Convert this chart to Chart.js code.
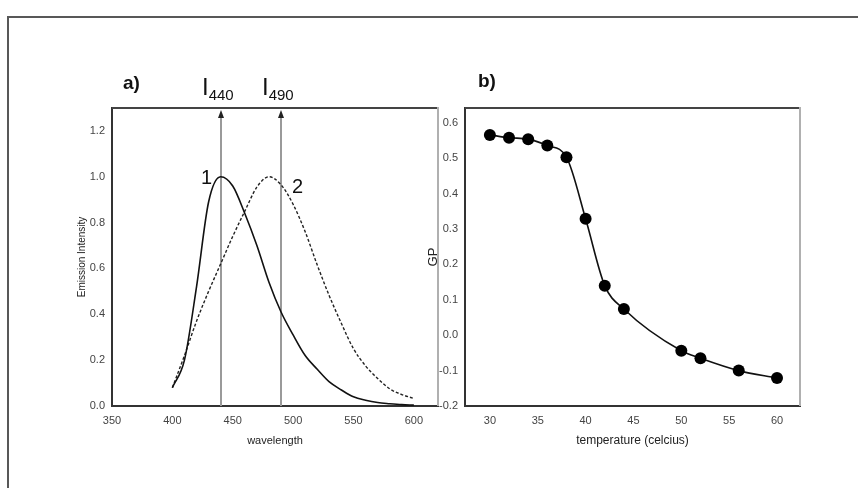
<!DOCTYPE html>
<html>
<head>
<meta charset="utf-8">
<script src="https://cdn.jsdelivr.net/npm/chart.js@4/dist/chart.umd.min.js"></script>
<style>
  html, body { margin: 0; padding: 0; background: #fff; }
  #wrap { position: relative; width: 858px; height: 488px; overflow: hidden; }
  #frame { position: absolute; left: 7px; top: 16px; width: 900px; height: 500px;
           border-top: 2px solid #585858; border-left: 2px solid #585858; }
  canvas { position: absolute; top: 0; }
  #chartA { left: 0; }
  #chartB { left: 400px; }
</style>
</head>
<body>
<div id="wrap">
  <div id="frame"></div>
  <canvas id="chartA" width="450" height="488"></canvas>
  <canvas id="chartB" width="458" height="488"></canvas>
</div>
<script>
// a) emission spectra
const wavelengths = [400, 410, 420, 430, 440, 450, 460, 470, 480, 490, 500,
                     510, 520, 530, 540, 550, 560, 570, 580, 590, 600];
const emission1 = [0.08, 0.20, 0.52, 0.89, 1.00, 0.96, 0.84, 0.70, 0.54, 0.41, 0.31,
                   0.22, 0.16, 0.105, 0.07, 0.04, 0.025, 0.015, 0.01, 0.006, 0.004];
const emission2 = [0.08, 0.22, 0.37, 0.50, 0.62, 0.74, 0.85, 0.955, 1.00, 0.965, 0.88,
                   0.76, 0.615, 0.48, 0.36, 0.25, 0.175, 0.12, 0.075, 0.05, 0.033];
const wavelengthTicks = [350, 400, 450, 500, 550, 600];
const intensityTicks = [0, 0.2, 0.4, 0.6, 0.8, 1.0, 1.2];
const markerWavelengths = [440, 490];
const markerNames = ['440', '490'];

// b) GP vs temperature
const temperatures = [30, 32, 34, 36, 38, 40, 42, 44, 50, 52, 56, 60];
const gpValues = [0.566, 0.558, 0.554, 0.536, 0.503, 0.329, 0.140, 0.074, -0.044, -0.065, -0.100, -0.121];
const temperatureTicks = [30, 35, 40, 45, 50, 55, 60];
const gpTicks = [-0.2, -0.1, 0, 0.1, 0.2, 0.3, 0.4, 0.5, 0.6];

Chart.defaults.font.family = "'Liberation Sans', Arial, sans-serif";
Chart.defaults.color = '#444';

const tickFont = { size: 11 };

// top + right edge of the plot box
const boxFrame = {
  id: 'boxFrame',
  afterDraw(chart) {
    const { ctx, chartArea: a } = chart;
    ctx.save();
    ctx.lineWidth = 2;
    ctx.strokeStyle = '#444';
    ctx.beginPath();
    ctx.moveTo(a.left, a.top);
    ctx.lineTo(a.right, a.top);
    ctx.stroke();
    ctx.strokeStyle = '#b0b0b0';
    ctx.beginPath();
    ctx.moveTo(a.right, a.top - 1);
    ctx.lineTo(a.right, a.bottom);
    ctx.stroke();
    ctx.restore();
  }
};

const markersA = {
  id: 'markersA',
  beforeDatasetsDraw(chart) {
    const { ctx, chartArea: a, scales: { x, y } } = chart;
    ctx.save();
    markerWavelengths.forEach(m => {
      const px = Math.round(x.getPixelForValue(m));
      ctx.strokeStyle = '#9a9a9a';
      ctx.lineWidth = 2;
      ctx.beginPath();
      ctx.moveTo(px, y.getPixelForValue(0));
      ctx.lineTo(px, a.top + 8);
      ctx.stroke();
      ctx.fillStyle = '#222';
      ctx.beginPath();
      ctx.moveTo(px, a.top + 2);
      ctx.lineTo(px - 3, a.top + 10);
      ctx.lineTo(px + 3, a.top + 10);
      ctx.closePath();
      ctx.fill();
    });
    ctx.restore();
  },
  afterDraw(chart) {
    const { ctx, scales: { x, y } } = chart;
    ctx.save();
    ctx.fillStyle = '#111';
    ctx.textBaseline = 'alphabetic';
    ctx.font = "bold 19px 'Liberation Sans', Arial";
    ctx.fillText('a)', 123, 89);
    markerWavelengths.forEach((m, i) => {
      const px = Math.round(x.getPixelForValue(m)) - 19;
      ctx.font = "24px 'Liberation Sans', Arial";
      ctx.fillText('I', px, 95);
      const w = ctx.measureText('I').width;
      ctx.font = "15px 'Liberation Sans', Arial";
      ctx.fillText(markerNames[i], px + w, 100);
    });
    ctx.font = "20px 'Liberation Sans', Arial";
    ctx.textAlign = 'right';
    ctx.fillText('1', x.getPixelForValue(433), y.getPixelForValue(0.97));
    ctx.textAlign = 'left';
    ctx.fillText('2', x.getPixelForValue(499), y.getPixelForValue(0.93));
    ctx.restore();
  }
};

const labelB = {
  id: 'labelB',
  afterDraw(chart) {
    const ctx = chart.ctx;
    ctx.save();
    ctx.fillStyle = '#111';
    ctx.font = "bold 19px 'Liberation Sans', Arial";
    ctx.fillText('b)', 78, 87);
    ctx.restore();
  }
};

new Chart(document.getElementById('chartA'), {
  type: 'line',
  data: {
    datasets: [{
      data: wavelengths.map((w, i) => ({ x: w, y: emission1[i] })),
      borderColor: '#111',
      borderWidth: 1.6,
      pointRadius: 0,
      cubicInterpolationMode: 'monotone'
    }, {
      data: wavelengths.map((w, i) => ({ x: w, y: emission2[i] })),
      borderColor: '#222',
      borderWidth: 1.4,
      borderDash: [3, 2],
      pointRadius: 0,
      cubicInterpolationMode: 'monotone'
    }]
  },
  options: {
    responsive: false,
    animation: false,
    layout: { padding: { left: 76, top: 108, right: 12, bottom: 40 } },
    plugins: { legend: { display: false }, tooltip: { enabled: false } },
    scales: {
      x: {
        type: 'linear', min: 350, max: 620,
        afterBuildTicks: s => { s.ticks = wavelengthTicks.map(v => ({ value: v })); },
        afterFit: s => { s.height = 42; },
        grid: { display: false },
        border: { color: '#333', width: 2 },
        ticks: { font: tickFont, padding: 0, maxRotation: 0, callback: v => String(v) },
        title: { display: true, text: 'wavelength', font: { size: 11 }, color: '#222', padding: 0 }
      },
      y: {
        min: 0, max: 1.3,
        afterBuildTicks: s => { s.ticks = intensityTicks.map(v => ({ value: v })); },
        afterFit: s => { s.width = 36; },
        grid: { display: false },
        border: { color: '#333', width: 2 },
        ticks: { font: tickFont, padding: -1, callback: v => v.toFixed(1) },
        title: { display: true, text: 'Emission Intensity', font: { size: 10 }, color: '#222', padding: 0 }
      }
    }
  },
  plugins: [markersA, boxFrame]
});

new Chart(document.getElementById('chartB'), {
  type: 'line',
  data: {
    datasets: [{
      data: temperatures.map((t, i) => ({ x: t, y: gpValues[i] })),
      borderColor: '#111',
      borderWidth: 1.6,
      pointRadius: 6,
      pointBackgroundColor: '#000',
      pointBorderColor: '#000',
      pointBorderWidth: 0,
      cubicInterpolationMode: 'monotone'
    }]
  },
  options: {
    responsive: false,
    animation: false,
    layout: { padding: { left: 26, top: 108, right: 58, bottom: 40 } },
    plugins: { legend: { display: false }, tooltip: { enabled: false } },
    scales: {
      x: {
        type: 'linear', min: 27.4, max: 62.4,
        afterBuildTicks: s => { s.ticks = temperatureTicks.map(v => ({ value: v })); },
        afterFit: s => { s.height = 42; },
        grid: { display: false },
        border: { color: '#333', width: 2 },
        ticks: { font: tickFont, padding: 0, maxRotation: 0, callback: v => String(v) },
        title: { display: true, text: 'temperature (celcius)', font: { size: 12 }, color: '#222', padding: 0 }
      },
      y: {
        min: -0.2, max: 0.642,
        afterBuildTicks: s => { s.ticks = gpTicks.map(v => ({ value: v })); },
        afterFit: s => { s.width = 39; },
        grid: { display: false },
        border: { color: '#333', width: 2 },
        ticks: { font: tickFont, padding: -1, callback: v => v.toFixed(1) },
        title: { display: true, text: 'GP', font: { size: 13 }, color: '#222', padding: 0 }
      }
    }
  },
  plugins: [labelB, boxFrame]
});
</script>
</body>
</html>
